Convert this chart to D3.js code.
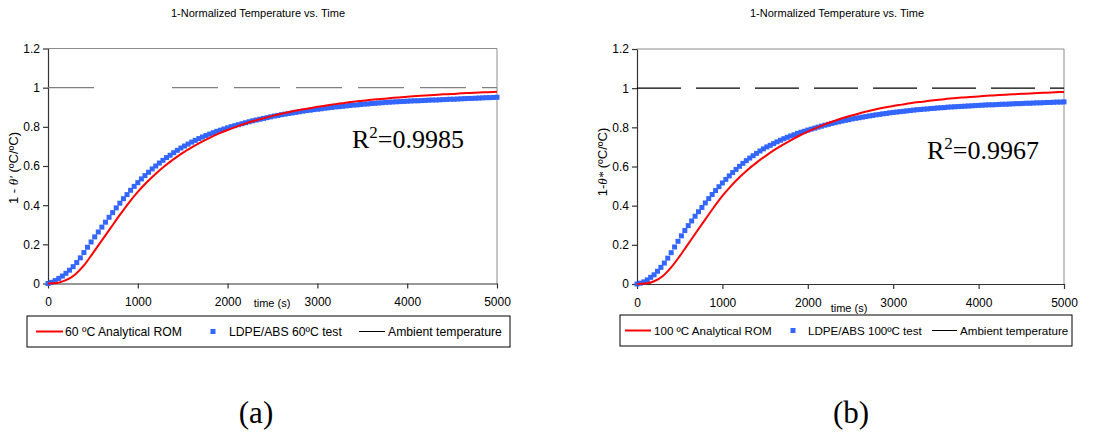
<!DOCTYPE html>
<html>
<head>
<meta charset="utf-8">
<script src="https://cdn.jsdelivr.net/npm/d3@7/dist/d3.min.js"></script>
<style>
  html, body { margin: 0; padding: 0; background: #fff; }
  svg { display: block; }
  text { font-family: "Liberation Sans", Arial, sans-serif; fill: #000; }
</style>
</head>
<body>
<svg id="fig" width="1107" height="437"></svg>
<script>
// ---------- data ----------
const chartTitle = "1-Normalized Temperature vs. Time";
const xTicks = [0, 1000, 2000, 3000, 4000, 5000];
const xTickLabels = ["0", "1000", "2000", "3000", "4000", "5000"];
const yTicks = [0, 0.2, 0.4, 0.6, 0.8, 1, 1.2];
const yTickLabels = ["0", "0.2", "0.4", "0.6", "0.8", "1", "1.2"];
const ambientLevel = 1;

// test data logged every 40 s, analytical model evaluated every 100 s
const testStep = 40;
const romStep = 100;

// (a) 60 ºC
const test60 = [
  0.000, 0.006, 0.015, 0.026, 0.038, 0.052, 0.068, 0.086, 0.107, 0.131,
  0.158, 0.185, 0.212, 0.238, 0.263, 0.288, 0.313, 0.338, 0.362, 0.386,
  0.410, 0.433, 0.454, 0.476, 0.496, 0.515, 0.534, 0.551, 0.568, 0.585,
  0.600, 0.615, 0.629, 0.643, 0.655, 0.668, 0.680, 0.692, 0.702, 0.712,
  0.722, 0.731, 0.740, 0.748, 0.756, 0.763, 0.770, 0.777, 0.783, 0.789,
  0.795, 0.801, 0.806, 0.811, 0.816, 0.821, 0.826, 0.831, 0.835, 0.839,
  0.843, 0.847, 0.851, 0.855, 0.858, 0.862, 0.865, 0.868, 0.871, 0.874,
  0.877, 0.880, 0.883, 0.885, 0.888, 0.890, 0.892, 0.895, 0.897, 0.899,
  0.902, 0.903, 0.905, 0.907, 0.909, 0.911, 0.912, 0.914, 0.916, 0.917,
  0.919, 0.920, 0.922, 0.923, 0.925, 0.926, 0.927, 0.928, 0.929, 0.930,
  0.931, 0.932, 0.933, 0.933, 0.934, 0.935, 0.936, 0.937, 0.937, 0.938,
  0.939, 0.940, 0.941, 0.941, 0.942, 0.943, 0.944, 0.945, 0.945, 0.946,
  0.947, 0.948, 0.949, 0.949, 0.950, 0.951
];
const rom60 = [
  0.000, 0.003, 0.017, 0.045, 0.092, 0.155, 0.220, 0.285, 0.350, 0.412,
  0.468, 0.517, 0.561, 0.600, 0.635, 0.667, 0.695, 0.721, 0.744, 0.765,
  0.784, 0.801, 0.817, 0.831, 0.844, 0.856, 0.867, 0.877, 0.886, 0.894,
  0.902, 0.909, 0.916, 0.922, 0.928, 0.933, 0.938, 0.942, 0.946, 0.950,
  0.954, 0.957, 0.960, 0.963, 0.966, 0.968, 0.971, 0.973, 0.975, 0.977,
  0.979
];

// (b) 100 ºC
const test100 = [
  0.000, 0.004, 0.011, 0.021, 0.034, 0.047, 0.065, 0.085, 0.107, 0.132,
  0.160, 0.189, 0.218, 0.246, 0.273, 0.298, 0.322, 0.346, 0.369, 0.391,
  0.414, 0.436, 0.457, 0.477, 0.497, 0.516, 0.534, 0.552, 0.569, 0.585,
  0.601, 0.616, 0.630, 0.643, 0.655, 0.667, 0.679, 0.690, 0.700, 0.708,
  0.717, 0.726, 0.734, 0.742, 0.749, 0.756, 0.762, 0.769, 0.775, 0.780,
  0.786, 0.791, 0.796, 0.801, 0.806, 0.811, 0.815, 0.820, 0.824, 0.828,
  0.832, 0.836, 0.839, 0.843, 0.846, 0.849, 0.852, 0.855, 0.858, 0.861,
  0.864, 0.866, 0.869, 0.871, 0.874, 0.876, 0.878, 0.880, 0.882, 0.884,
  0.886, 0.888, 0.890, 0.891, 0.893, 0.894, 0.896, 0.897, 0.899, 0.900,
  0.901, 0.903, 0.904, 0.905, 0.906, 0.907, 0.908, 0.909, 0.910, 0.911,
  0.912, 0.913, 0.914, 0.915, 0.915, 0.916, 0.917, 0.918, 0.918, 0.919,
  0.920, 0.921, 0.921, 0.922, 0.923, 0.923, 0.924, 0.925, 0.925, 0.926,
  0.927, 0.927, 0.928, 0.929, 0.929, 0.930
];
const rom100 = [
  0.000, 0.002, 0.014, 0.040, 0.085, 0.142, 0.205, 0.268, 0.330, 0.392,
  0.450, 0.500, 0.545, 0.585, 0.620, 0.652, 0.682, 0.709, 0.734, 0.757,
  0.778, 0.797, 0.815, 0.831, 0.846, 0.859, 0.871, 0.882, 0.892, 0.901,
  0.909, 0.916, 0.923, 0.929, 0.934, 0.939, 0.944, 0.948, 0.952, 0.955,
  0.958, 0.961, 0.964, 0.966, 0.969, 0.971, 0.973, 0.975, 0.977, 0.979,
  0.981
];

const panelNames = ["(a)", "(b)"];
const romLabels = ["60 ºC Analytical ROM", "100 ºC Analytical ROM"];
const testLabels = ["LDPE/ABS 60ºC test", "LDPE/ABS 100ºC test"];
const ambientLabel = "Ambient temperature";
const r2Values = ["0.9985", "0.9967"];

// ---------- layout ----------
const panels = [
  {
    test: test60, rom: rom60, romLabel: romLabels[0], testLabel: testLabels[0], r2: r2Values[0],
    name: panelNames[0], yLabel: ["1 - ", "θ'", " (ºC/ºC)"],
    left: 48, right: 497, top: 48.5, bottom: 283.5,
    titleX: 258, yLabelX: 18, yLabelY: 168,
    xLabelX: 272, xLabelY: 307,
    r2X: 352, r2Y: 148,
    ambientColor: "#7f7f7f", ambientDash: "46,78,46,16,46,16,46,16,46,16,46,16,46,16,46,16",
    legendFont: 12.2,
    legend: { x0: 27, x1: 510, y0: 316, y1: 347, line1: [36, 63], text1: 65, sq: 213, text2: 229, line3: [359, 385], text3: 388 },
    nameX: 256
  },
  {
    test: test100, rom: rom100, romLabel: romLabels[1], testLabel: testLabels[1], r2: r2Values[1],
    name: panelNames[1], yLabel: ["1-", "θ*", " (ºC/ºC)"],
    left: 637, right: 1064, top: 49, bottom: 284,
    titleX: 837, yLabelX: 607, yLabelY: 162,
    xLabelX: 849, xLabelY: 312,
    r2X: 927, r2Y: 159,
    ambientColor: "#000", ambientDash: "44,15",
    legendFont: 11.6,
    legend: { x0: 620, x1: 1072, y0: 315, y1: 346, line1: [625, 651], text1: 654, sq: 793, text2: 808, line3: [932, 957], text3: 960 },
    nameX: 851
  }
];

const svg = d3.select("#fig");

panels.forEach(p => {
  const g = svg.append("g");
  const x = d3.scaleLinear().domain([0, 5000]).range([p.left, p.right]);
  const y = d3.scaleLinear().domain([0, 1.2]).range([p.bottom, p.top]);

  // title
  g.append("text").attr("x", p.titleX).attr("y", 17)
    .attr("text-anchor", "middle").style("font-size", "11px").text(chartTitle);

  // plot-area frame (top and right edges)
  g.append("path")
    .attr("d", `M${p.left},${y(1.2)}H${p.right}V${p.bottom}`)
    .attr("fill", "none").attr("stroke", "#8c8c8c").attr("stroke-width", 1);

  // axes
  const xAxis = d3.axisBottom(x).tickValues(xTicks)
    .tickFormat((d, i) => xTickLabels[i]).tickSize(5).tickPadding(9).tickSizeOuter(0);
  const yAxis = d3.axisLeft(y).tickValues(yTicks)
    .tickFormat((d, i) => yTickLabels[i]).tickSize(5).tickPadding(3).tickSizeOuter(0);

  const gx = g.append("g").attr("transform", `translate(0,${p.bottom})`).call(xAxis);
  const gy = g.append("g").attr("transform", `translate(${p.left},0)`).call(yAxis);
  [gx, gy].forEach(a => {
    a.selectAll("path, line").attr("stroke", "#333").attr("stroke-width", 1.2);
    a.selectAll("text").style("font-size", "12px").style("font-family", "'Liberation Sans', Arial, sans-serif");
  });

  // ambient temperature line
  g.append("path")
    .attr("d", d3.line().x(d => x(d[0])).y(d => y(d[1]))([[0, ambientLevel], [5000, ambientLevel]]))
    .attr("fill", "none").attr("stroke", p.ambientColor).attr("stroke-width", 1.2)
    .attr("stroke-dasharray", p.ambientDash);

  // test data (square markers)
  g.append("g").selectAll("rect").data(p.test).join("rect")
    .attr("x", (d, i) => x(i * testStep) - 2.5)
    .attr("y", d => y(d) - 2.5)
    .attr("width", 5).attr("height", 5)
    .attr("fill", "#3366ff");

  // analytical model curve
  g.append("path")
    .datum(p.rom)
    .attr("d", d3.line().x((d, i) => x(i * romStep)).y(d => y(d)).curve(d3.curveMonotoneX))
    .attr("fill", "none").attr("stroke", "#ff0000").attr("stroke-width", 2);

  // axis titles
  g.append("text").attr("x", p.xLabelX).attr("y", p.xLabelY)
    .attr("text-anchor", "middle").style("font-size", "11px").text("time (s)");

  const yl = g.append("text")
    .attr("transform", `translate(${p.yLabelX},${p.yLabelY}) rotate(-90)`)
    .attr("text-anchor", "middle").style("font-size", "13px");
  yl.append("tspan").text(p.yLabel[0]);
  yl.append("tspan").style("font-style", "italic").style("font-family", "'Liberation Serif', serif").text(p.yLabel[1]);
  yl.append("tspan").text(p.yLabel[2]);

  // coefficient of determination
  const r2 = g.append("text").attr("x", p.r2X).attr("y", p.r2Y)
    .style("font-family", "'Liberation Serif', 'Times New Roman', serif").style("font-size", "26px");
  r2.append("tspan").text("R");
  r2.append("tspan").attr("dy", -10).style("font-size", "17px").text("2");
  r2.append("tspan").attr("dy", 10).text("=" + p.r2);

  // legend
  const L = p.legend;
  const lg = g.append("g");
  const ly = (L.y0 + L.y1) / 2;
  const fs = p.legendFont + "px";
  lg.append("rect").attr("x", L.x0).attr("y", L.y0).attr("width", L.x1 - L.x0).attr("height", L.y1 - L.y0)
    .attr("fill", "#fff").attr("stroke", "#000").attr("stroke-width", 1);
  lg.append("line").attr("x1", L.line1[0]).attr("x2", L.line1[1]).attr("y1", ly).attr("y2", ly)
    .attr("stroke", "#ff0000").attr("stroke-width", 2);
  lg.append("text").attr("x", L.text1).attr("y", ly + 4.5).style("font-size", fs).text(p.romLabel);
  lg.append("rect").attr("x", L.sq - 2.5).attr("y", ly - 2.5).attr("width", 5).attr("height", 5).attr("fill", "#3366ff");
  lg.append("text").attr("x", L.text2).attr("y", ly + 4.5).style("font-size", fs).text(p.testLabel);
  lg.append("line").attr("x1", L.line3[0]).attr("x2", L.line3[1]).attr("y1", ly).attr("y2", ly)
    .attr("stroke", "#000").attr("stroke-width", 1);
  lg.append("text").attr("x", L.text3).attr("y", ly + 4.5).style("font-size", fs).text(ambientLabel);

  // panel caption
  svg.append("text").attr("x", p.nameX).attr("y", 423).attr("text-anchor", "middle")
    .style("font-family", "'Liberation Serif', 'Times New Roman', serif").style("font-size", "31px")
    .text(p.name);
});
</script>
</body>
</html>
